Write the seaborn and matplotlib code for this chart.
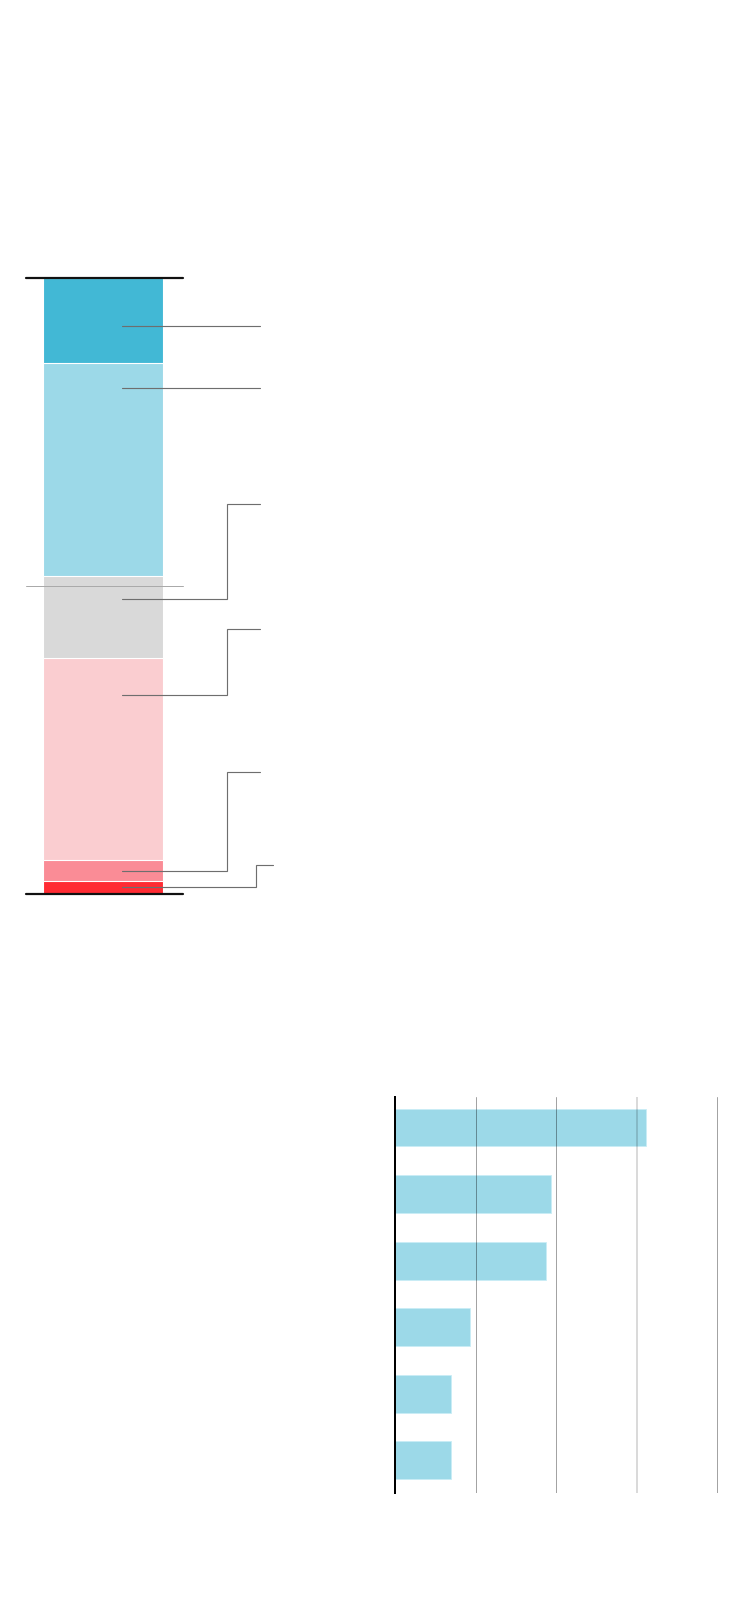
import matplotlib
matplotlib.use("Agg")
import matplotlib.pyplot as plt
import seaborn as sns
import pandas as pd

sns.set_style("white")
plt.rcParams['font.family'] = ['DejaVu Sans']

# ---------------- data ----------------
# stacked column (top to bottom), share of total (%)
segments = ["Seg 1", "Seg 2", "Seg 3", "Seg 4", "Seg 5", "Seg 6"]
shares = [13.9, 34.6, 13.3, 32.8, 3.4, 2.0]
seg_colors = ["#42b8d5", "#9cd9e8", "#d9d9d9", "#facdd0", "#fa8c96", "#ff2b33"]
midline_value = 50

# leader anchors (data units of the stacked column)
leader_start_y = [92.1, 82.0, 47.8, 32.3, 3.65, 1.0]
leader_end_y = [92.1, 82.0, 63.3, 43.0, 19.7, 4.6]

# horizontal bar chart
bar_categories = ["A", "B", "C", "D", "E", "F"]
bar_values = [3.12, 1.94, 1.87, 0.93, 0.70, 0.70]
grid_ticks = [1, 2, 3, 4]
grid_alphas = [0.36, 0.36, 0.18, 0.36]

# ---------------- figure ----------------
fig = plt.figure(figsize=(7.5, 16.2), dpi=100)
fig.patch.set_facecolor("white")
PX = 0.72  # points per pixel at 100 dpi

# ----- top stacked column -----
ax = fig.add_axes([26 / 750, (1620 - 893.5) / 1620, 157 / 750, 616 / 1620])
cum = []
total = 0
for v in reversed(shares):
    total += v
    cum.append(total)
cum = list(reversed(cum))  # cumulative top value of each segment
for name, top, col in zip(segments, cum, seg_colors):
    sns.barplot(x=["all"], y=[top], color=col, width=1.0, errorbar=None,
                edgecolor="white", linewidth=1.1 * PX, saturation=1, ax=ax)
ax.set_ylim(0, sum(shares))
ax.set_xlim(-0.6445, 0.6671)
ax.axhline(sum(shares), color="#111111", lw=2.2 * PX, zorder=5, clip_on=False)
ax.axhline(0, color="#111111", lw=2.2 * PX, zorder=5, clip_on=False)
ax.axhline(midline_value, color="#aaaaaa", lw=1 * PX, zorder=4, clip_on=False)
for s in ax.spines.values():
    s.set_visible(False)
ax.set_xticks([]); ax.set_yticks([])
ax.set_xlabel(""); ax.set_ylabel("")
ax.patch.set_alpha(0)

x_in, x_knee, x_out = 0.16, 1.032, 1.31
for i, (ys, ye) in enumerate(zip(leader_start_y, leader_end_y)):
    if i == len(leader_start_y) - 1:
        xs = [x_in, 1.279, 1.279, 1.421]
        yy = [ys, ys, ye, ye]
    elif abs(ys - ye) < 1e-9:
        xs = [x_in, x_out]
        yy = [ys, ye]
    else:
        xs = [x_in, x_knee, x_knee, x_out]
        yy = [ys, ys, ye, ye]
    ax.plot(xs, yy, color="#6e6e6e", lw=1.15 * PX, zorder=6, clip_on=False,
            solid_joinstyle="miter")

# ----- bottom horizontal bars -----
ax2 = fig.add_axes([395 / 750, (1620 - 1493.3) / 1620, 325 / 750, 396.6 / 1620])
df = pd.DataFrame({"cat": bar_categories, "val": bar_values})
sns.barplot(data=df, x="val", y="cat", orient="h", color="#9cd9e8", saturation=1,
            width=0.571, errorbar=None, edgecolor="#c8edf6", linewidth=0.8 * PX, ax=ax2)
ax2.set_xlim(0, 4.032)
ax2.set_ylim(5.5, -0.463)
ax2.set_xticks([])
ax2.set_yticks([])
ax2.set_xlabel(""); ax2.set_ylabel("")
ax2.grid(False)
for t, a in zip(grid_ticks, grid_alphas):
    ax2.axvline(t, color="black", alpha=a, lw=(1.6 if a < 0.3 else 1.0) * PX, zorder=5)
for side in ["top", "right", "bottom"]:
    ax2.spines[side].set_visible(False)
ax2.spines["left"].set_color("black")
ax2.spines["left"].set_linewidth(2 * PX)
ax2.spines["left"].set_zorder(6)
ax2.patch.set_alpha(0)

fig.savefig("out.png", dpi=100, facecolor="white")
